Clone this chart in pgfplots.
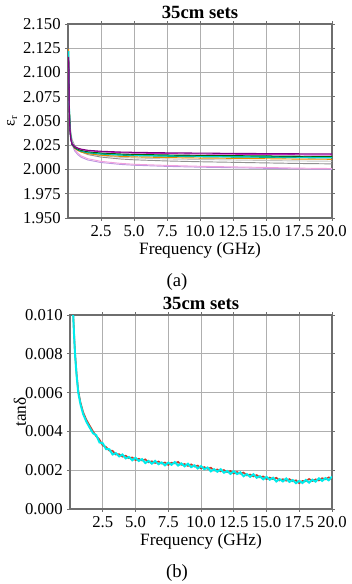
\documentclass[border=0pt]{standalone}
\usepackage{fontspec}
\setmainfont{Liberation Serif}
\usepackage{pgfplots}
\usepackage{pgfplotstable}
\pgfplotsset{compat=1.18}

\definecolor{cpu}{RGB}{128,0,128}
\definecolor{cma}{RGB}{200,40,200}
\definecolor{cdg}{RGB}{0,100,0}
\definecolor{cbk}{RGB}{20,20,20}
\definecolor{ccy}{RGB}{0,215,215}
\definecolor{ctg}{RGB}{0,160,100}
\definecolor{cor}{RGB}{230,140,0}
\definecolor{clg}{RGB}{195,195,195}
\definecolor{cgy}{RGB}{145,145,145}
\definecolor{cpk}{RGB}{240,160,220}
\definecolor{cvi}{RGB}{190,150,225}
\definecolor{cred}{RGB}{200,60,40}
\definecolor{ccy2}{RGB}{0,235,235}
\definecolor{gridc}{RGB}{175,175,175}
\definecolor{axc}{RGB}{110,110,110}

\pgfplotstableread{
x     pu     ma     dg     bk     cy     tg     or     lg     gy     pk     vi
0.05  2.116  2.115  2.113  2.112  2.122  2.110  2.124  2.105  2.100  2.098  2.095
0.1   2.056  2.060  2.063  2.063  2.065  2.064  2.062  2.060  2.058  2.056  2.054
0.15  2.040  2.042  2.0435 2.043  2.0455 2.045  2.046  2.045  2.048  2.042  2.040
0.2   2.032  2.033  2.0335 2.033  2.0345 2.034  2.034  2.033  2.040  2.034  2.032
0.3   2.0264 2.0267 2.0265 2.026  2.0268 2.0263 2.0261 2.0293 2.031  2.0283 2.0262
0.5   2.0236 2.0236 2.0230 2.0225 2.0230 2.0225 2.0219 2.0237 2.0248 2.0210 2.0192
0.75  2.0220 2.0218 2.0210 2.0205 2.0208 2.0203 2.0195 2.0205 2.0208 2.0168 2.0152
1     2.0210 2.0206 2.0197 2.0192 2.0193 2.0188 2.0179 2.0184 2.0182 2.0140 2.0126
1.5   2.0198 2.0193 2.0183 2.0178 2.0178 2.0173 2.0163 2.0162 2.0154 2.0111 2.0098
2.5   2.0188 2.0182 2.0170 2.0165 2.0164 2.0159 2.0147 2.0141 2.0128 2.0084 2.0072
4     2.0180 2.0173 2.0160 2.0155 2.0153 2.0148 2.0135 2.0125 2.0108 2.0063 2.0052
5     2.0177 2.0169 2.0156 2.0151 2.0148 2.0143 2.0130 2.0119 2.0100 2.0054 2.0044
7.5   2.0172 2.0164 2.0150 2.0145 2.0142 2.0137 2.0123 2.0109 2.0088 2.0042 2.0032
10    2.0169 2.0160 2.0146 2.0141 2.0137 2.0132 2.0118 2.0103 2.0080 2.0033 2.0024
12.5  2.0166 2.0157 2.0143 2.0138 2.0134 2.0129 2.0115 2.0098 2.0074 2.0027 2.0018
15    2.0164 2.0155 2.0140 2.0135 2.0131 2.0126 2.0111 2.0093 2.0068 2.0021 2.0012
17.5  2.0162 2.0152 2.0137 2.0132 2.0127 2.0122 2.0107 2.0088 2.0062 2.0014 2.0006
20    2.0160 2.0150 2.0135 2.0130 2.0125 2.0120 2.0105 2.0085 2.0058 2.0010 2.0002
}\eps

\pgfplotstableread{
x     red      cy
0.22  0.0106   0.0105
0.25  0.0100   0.0099
0.30  0.0092   0.0091
0.38  0.0081   0.0080
0.50  0.0070   0.0069
0.63  0.0061   0.0060
0.80  0.0055   0.0054
1.00  0.0050   0.0049
1.25  0.0046   0.0045
1.50  0.0043   0.0042
1.76  0.0040   0.0039
2.00  0.00375  0.00381
2.25  0.00358  0.00343
2.50  0.00327  0.00339
2.75  0.00320  0.00309
3.00  0.00301  0.00308
3.25  0.00300  0.00281
3.50  0.00281  0.00288
3.75  0.00283  0.00271
4.00  0.00270  0.00281
4.25  0.00275  0.00261
4.50  0.00262  0.00268
4.75  0.00266  0.00251
5.00  0.00252  0.00264
5.25  0.00259  0.00248
5.50  0.00250  0.00257
5.75  0.00256  0.00237
6.00  0.00241  0.00248
6.25  0.00246  0.00234
6.50  0.00237  0.00248
6.75  0.00245  0.00231
7.00  0.00234  0.00240
7.25  0.00240  0.00225
7.50  0.00227  0.00239
7.75  0.00239  0.00228
8.00  0.00235  0.00242
8.25  0.00243  0.00224
8.50  0.00228  0.00235
8.75  0.00232  0.00220
9.00  0.00222  0.00233
9.25  0.00230  0.00216
9.50  0.00219  0.00225
9.75  0.00224  0.00209
10.00 0.00209  0.00221
10.25 0.00216  0.00205
10.50 0.00207  0.00214
10.75 0.00213  0.00194
11.00 0.00198  0.00205
11.25 0.00204  0.00192
11.50 0.00194  0.00205
11.75 0.00201  0.00187
12.00 0.00190  0.00196
12.25 0.00196  0.00181
12.50 0.00183  0.00195
12.75 0.00191  0.00180
13.00 0.00182  0.00189
13.25 0.00188  0.00169
13.50 0.00173  0.00180
13.75 0.00178  0.00166
14.00 0.00168  0.00179
14.25 0.00175  0.00161
14.50 0.00163  0.00169
14.75 0.00168  0.00153
15.00 0.00154  0.00166
15.25 0.00162  0.00151
15.50 0.00154  0.00161
15.75 0.00161  0.00142
16.00 0.00147  0.00154
16.25 0.00154  0.00142
16.50 0.00146  0.00157
16.75 0.00154  0.00140
17.00 0.00143  0.00149
17.25 0.00148  0.00133
17.50 0.00133  0.00145
17.75 0.00145  0.00134
18.00 0.00143  0.00150
18.25 0.00155  0.00136
18.50 0.00144  0.00151
18.75 0.00153  0.00141
19.00 0.00147  0.00158
19.25 0.00159  0.00145
19.50 0.00153  0.00159
19.75 0.00163  0.00148
20.00 0.00155  0.00167
}\tand

\pgfplotsset{
  mystyle/.style={
    scale only axis,
    height=145.5pt,
    xmin=0, xmax=20,
    xtick={2.5,5,7.5,10,12.5,15,17.5,20},
    grid=major,
    grid style={gridc, line width=0.6pt},
    axis line style={axc, line width=0.8pt},
    tick style={axc, line width=0.6pt},
    tick align=outside,
    major tick length=2pt,
    /pgf/number format/assume math mode=true,
    ticklabel style={font=\fontsize{12.5}{14}\selectfont},
    x tick label style={/pgf/number format/fixed, /pgf/number format/fixed zerofill, /pgf/number format/precision=1},
    y tick label style={/pgf/number format/fixed, /pgf/number format/fixed zerofill, /pgf/number format/precision=3},
    scaled y ticks=false,
    xlabel={Frequency (GHz)},
    label style={font=\fontsize{13}{15}\selectfont},
    xlabel style={at={(axis description cs:0.5,0)}, anchor=center, yshift=-24pt},
    title={35cm sets},
    title style={font=\bfseries\fontsize{14}{16}\selectfont, at={(axis description cs:0.5,1)}, anchor=center, yshift=3pt},
    every axis plot/.append style={no marks},
  }
}

\begin{document}
\begin{tikzpicture}
\path[use as bounding box] (0,0) rectangle (264pt,-438pt);

\begin{axis}[mystyle, width=198pt,
  at={(51pt,-163.5pt)}, anchor=south west,
  ymin=1.95, ymax=2.15,
  ytick={1.95,1.975,2.0,2.025,2.05,2.075,2.1,2.125,2.15},
  ylabel={ε\textsubscript{r}},
  ylabel style={at={(axis description cs:-0.212,0.5)}, anchor=center, font=\fontsize{12}{14}\selectfont},
]
\addplot[cvi, line width=0.7pt] table[x=x,y=vi] {\eps};
\addplot[cpk, line width=0.7pt] table[x=x,y=pk] {\eps};
\addplot[cgy, line width=0.7pt] table[x=x,y=gy] {\eps};
\addplot[clg, line width=0.7pt] table[x=x,y=lg] {\eps};
\addplot[cor, line width=0.7pt] table[x=x,y=or] {\eps};
\addplot[ctg, line width=0.8pt] table[x=x,y=tg] {\eps};
\addplot[cbk, line width=0.7pt] table[x=x,y=bk] {\eps};
\addplot[ccy, line width=0.9pt] table[x=x,y=cy] {\eps};
\addplot[cdg, line width=0.7pt] table[x=x,y=dg] {\eps};
\addplot[cma, line width=0.7pt] table[x=x,y=ma] {\eps};
\addplot[cpu, line width=0.8pt] table[x=x,y=pu] {\eps};
\end{axis}

\node[font=\fontsize{14}{16}\selectfont] at (132.75pt,-211.5pt) {(a)};

\begin{axis}[mystyle, width=196.5pt,
  at={(52.5pt,-381.75pt)}, anchor=south west,
  ymin=0, ymax=0.01,
  ytick={0,0.002,0.004,0.006,0.008,0.01},
  ylabel={tanδ},
  ylabel style={at={(axis description cs:-0.191,0.5)}, anchor=center},
  title style={yshift=-0.5pt},
]
\addplot[cred, line width=1.2pt] table[x=x,y=red] {\tand};
\addplot[ccy2, line width=1.5pt] table[x=x,y=cy] {\tand};
\end{axis}

\node[font=\fontsize{14}{16}\selectfont] at (132.75pt,-429.75pt) {(b)};
\end{tikzpicture}
\end{document}
